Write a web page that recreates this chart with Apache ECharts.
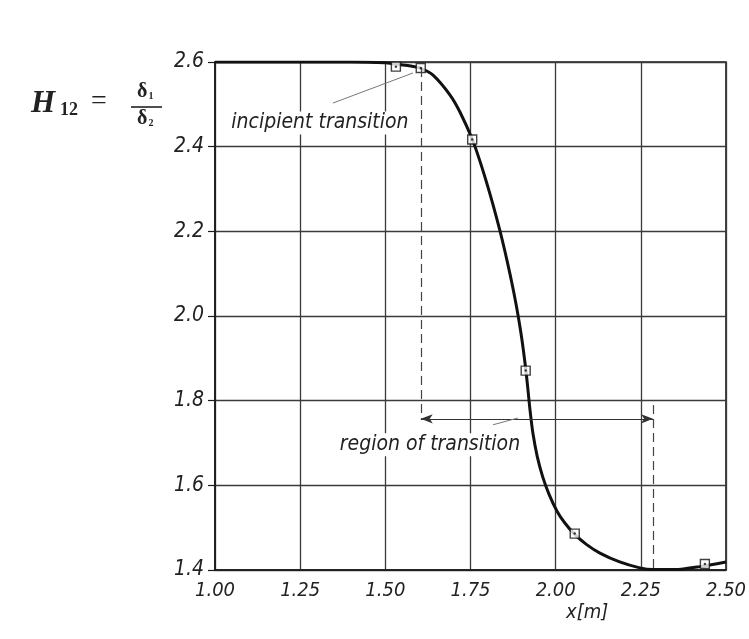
<!DOCTYPE html>
<html>
<head>
<meta charset="utf-8">
<script src="https://cdn.jsdelivr.net/npm/echarts@6/dist/echarts.min.js"></script>
<style>
  html, body { margin: 0; padding: 0; background: #fff; }
  #chart { width: 749px; height: 639px; }
</style>
</head>
<body>
<div id="chart"></div>
<script>
// Shape factor H12 along the plate: measured points and faired curve
const curveX = [1.00, 1.25, 1.40, 1.50, 1.53, 1.57, 1.604, 1.640, 1.690, 1.719, 1.755, 1.776, 1.797, 1.816, 1.836, 1.851, 1.866, 1.877, 1.889, 1.901, 1.912, 1.918, 1.924, 1.933, 1.946, 1.962, 1.980, 2.004, 2.027, 2.056, 2.091, 2.130, 2.188, 2.247, 2.285, 2.350, 2.423, 2.500];
const curveH = [2.600, 2.600, 2.600, 2.598, 2.595, 2.591, 2.585, 2.569, 2.522, 2.482, 2.418, 2.370, 2.316, 2.263, 2.203, 2.153, 2.099, 2.056, 2.004, 1.944, 1.876, 1.831, 1.783, 1.724, 1.668, 1.620, 1.580, 1.539, 1.511, 1.484, 1.460, 1.440, 1.419, 1.405, 1.401, 1.401, 1.408, 1.419];

const measX = [1.531, 1.604, 1.755, 1.912, 2.056, 2.286, 2.438];
const measH = [2.589, 2.586, 2.417, 1.871, 1.486, 1.398, 1.414];

const xTicks = ['1.00', '1.25', '1.50', '1.75', '2.00', '2.25', '2.50'];
const yTicks = ['1.4', '1.6', '1.8', '2.0', '2.2', '2.4', '2.6'];

// Transition markers
const incipientX = 1.604;
const endX = 2.286;
const regionLineH = 1.757;

const FONT = "'Liberation Sans Narrow', 'DejaVu Sans Condensed', sans-serif";
const INK = '#1a1a1a';
const GRID = '#3a3a3a';

const chart = echarts.init(document.getElementById('chart'), null, { renderer: 'canvas' });

const labelText = {
  fontFamily: FONT, fontStyle: 'italic', fontSize: 21, color: '#222'
};

chart.setOption({
  animation: false,
  backgroundColor: '#fff',
  grid: {
    left: 215, right: 23, top: 62, bottom: 69,
    containLabel: false, outerBoundsMode: 'none',
    show: true, borderColor: INK, borderWidth: 1.6
  },
  xAxis: {
    type: 'value', min: 1.0, max: 2.5, interval: 0.25,
    axisLine: { show: true, lineStyle: { color: INK, width: 1.6 } },
    axisTick: { show: false },
    axisLabel: {
      margin: 11, fontFamily: FONT, fontStyle: 'italic', fontSize: 20, color: '#222',
      formatter: (v) => xTicks[Math.round((v - 1.0) / 0.25)]
    },
    splitLine: { show: true, showMinLine: true, showMaxLine: true, lineStyle: { color: GRID, width: 1.3 } }
  },
  yAxis: {
    type: 'value', min: 1.4, max: 2.6, interval: 0.2,
    axisLine: { show: true, lineStyle: { color: INK, width: 1.6 } },
    axisTick: { show: true, length: 7, lineStyle: { color: INK, width: 1.2 } },
    axisLabel: {
      margin: 11, fontFamily: FONT, fontStyle: 'italic', fontSize: 21, color: '#222',
      formatter: (v) => yTicks[Math.round((v - 1.4) / 0.2)]
    },
    splitLine: { show: true, showMinLine: true, showMaxLine: true, lineStyle: { color: GRID, width: 1.3 } }
  },
  graphic: [
    { type: 'text', left: 31, top: 88, style: { text: 'H', font: "italic bold 31px 'Liberation Serif', 'DejaVu Serif', serif", fill: '#222' } },
    { type: 'text', left: 60, top: 101, style: { text: '12', font: "bold 18px 'Liberation Serif', 'DejaVu Serif', serif", fill: '#222' } },
    { type: 'text', left: 91, top: 88, style: { text: '=', font: "28px 'Liberation Serif', 'DejaVu Serif', serif", fill: '#222' } },
    { type: 'text', left: 137, top: 82, style: {
        rich: { d: { font: "bold 20px 'Liberation Serif', 'DejaVu Serif', serif", fill: '#222' },
                s: { font: "bold 10px 'Liberation Serif', serif", fill: '#222', padding: [8, 0, 0, 1] } },
        text: '{d|δ}{s|1}' } },
    { type: 'line', shape: { x1: 131, y1: 107, x2: 162, y2: 107 }, style: { stroke: '#222', lineWidth: 1.6 } },
    { type: 'text', left: 137, top: 109, style: {
        rich: { d: { font: "bold 20px 'Liberation Serif', 'DejaVu Serif', serif", fill: '#222' },
                s: { font: "bold 10px 'Liberation Serif', serif", fill: '#222', padding: [8, 0, 0, 1] } },
        text: '{d|δ}{s|2}' } },
    { type: 'text', left: 566, top: 603, style: { text: 'x[m]', font: "italic 20px 'Liberation Sans Narrow', 'DejaVu Sans Condensed', sans-serif", fill: '#222' } }
  ],
  series: [
    {
      type: 'line',
      data: curveX.map((x, i) => [x, curveH[i]]),
      smooth: 0.25,
      showSymbol: false,
      lineStyle: { color: '#111', width: 3 },
      z: 3,
      markLine: {
        silent: true,
        symbol: 'none',
        label: { show: false },
        animation: false,
        data: [
          [
            { coord: [incipientX, measH[1]], lineStyle: { type: [9, 5], color: '#444', width: 1.2 } },
            { coord: [incipientX, regionLineH] }
          ],
          [
            { coord: [endX, 1.79], lineStyle: { type: [9, 5], color: '#444', width: 1.2 } },
            { coord: [endX, 1.40] }
          ],
          [
            { coord: [incipientX, regionLineH], symbol: 'arrow', symbolSize: [7, 12], lineStyle: { type: 'solid', color: '#333', width: 1.2 } },
            { coord: [endX, regionLineH], symbol: 'arrow', symbolSize: [7, 12] }
          ],
          [
            { coord: [1.346, 2.503], lineStyle: { type: 'solid', color: '#777', width: 1 } },
            { coord: [1.581, 2.574] }
          ],
          [
            { coord: [1.816, 1.743], lineStyle: { type: 'solid', color: '#777', width: 1 } },
            { coord: [1.889, 1.759] }
          ]
        ]
      },
      markPoint: {
        silent: true,
        symbol: 'rect',
        symbolSize: 1,
        itemStyle: { color: 'rgba(0,0,0,0)' },
        data: [
          { coord: [1.308, 2.456], label: Object.assign({ show: true, position: 'inside', formatter: 'incipient transition', backgroundColor: '#fff', padding: [1, 3] }, labelText) },
          { coord: [1.631, 1.696], label: Object.assign({ show: true, position: 'inside', formatter: 'region of transition', backgroundColor: '#fff', padding: [1, 3] }, labelText) }
        ]
      }
    },
    {
      type: 'scatter',
      data: measX.map((x, i) => [x, measH[i]]),
      symbol: 'rect',
      symbolSize: 9,
      itemStyle: { color: '#fff', borderColor: '#111', borderWidth: 1.4 },
      z: 4
    },
    {
      type: 'scatter',
      data: measX.map((x, i) => [x, measH[i]]),
      symbol: 'circle',
      symbolSize: 2.5,
      itemStyle: { color: '#111' },
      z: 5
    }
  ]
});
</script>
</body>
</html>
